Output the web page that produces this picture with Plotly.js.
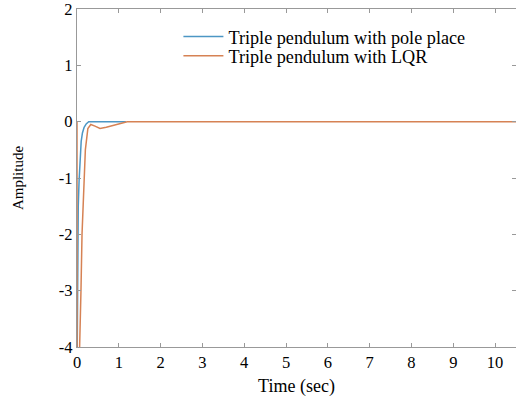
<!DOCTYPE html>
<html>
<head>
<meta charset="utf-8">
<script src="https://cdn.plot.ly/plotly-3.0.1.min.js"></script>
<style>html,body{margin:0;padding:0;background:#fff;overflow:hidden;}#chart{width:516px;height:400px;}</style>
</head>
<body>
<div id="chart"></div>
<script>
// Series: Triple pendulum with pole placement
const polePlaceTime = [0, 0.005, 0.01, 0.02, 0.03, 0.05, 0.07, 0.1, 0.13, 0.17, 0.22, 0.28, 0.4, 0.6, 0.8, 1.0, 1.17];
const polePlaceAmp  = [-4.6, -3.3, -2.4, -1.8, -1.5, -1.05, -0.65, -0.35, -0.2, -0.1, -0.04, 0, 0, 0, 0, 0, 0];
// Series: Triple pendulum with LQR
const lqrTime = [0, 0.002, 0.03, 0.07, 0.095, 0.12, 0.17, 0.2, 0.26, 0.33, 0.43, 0.55, 0.7, 0.85, 1.0, 1.2, 10.5];
const lqrAmp  = [0, -6, -5, -4, -3, -2, -1, -0.5, -0.12, -0.05, -0.08, -0.12, -0.1, -0.07, -0.04, 0, 0];
const seriesNames = ["Triple pendulum with pole place", "Triple pendulum with LQR"];
const xTicks = [0,1,2,3,4,5,6,7,8,9,10];
const yTicks = [-4,-3,-2,-1,0,1,2];

const fam = "Liberation Serif, Times New Roman, serif";
const tickFont = {family: fam, color: "#000", size: 16.5};
const legFont = {family: fam, color: "#000", size: 18.2};
const traces = [
  {x: polePlaceTime, y: polePlaceAmp, type: "scatter", mode: "lines", name: seriesNames[0],
   line: {color: "rgb(76,150,196)", width: 1.5}, legend: "legend"},
  {x: lqrTime, y: lqrAmp, type: "scatter", mode: "lines", name: seriesNames[1],
   line: {color: "rgb(214,130,84)", width: 1.5}, legend: "legend2"}
];
const axisCommon = {showgrid: false, zeroline: false, showline: true, linecolor: "#999", linewidth: 1.2,
  mirror: "ticks", ticks: "inside", ticklen: 4, tickcolor: "#999", tickfont: tickFont,
  ticklabeloverflow: "allow"};
const legCommon = {x: 0.231, xanchor: "left", yanchor: "top", bgcolor: "rgba(255,255,255,0)",
  font: legFont, itemwidth: 40};
const layout = {
  width: 516, height: 400,
  margin: {l: 77, r: 0, t: 9, b: 53},
  paper_bgcolor: "#fff", plot_bgcolor: "#fff",
  font: tickFont,
  showlegend: true,
  legend: Object.assign({}, legCommon, {y: 0.973}),
  legend2: Object.assign({}, legCommon, {y: 0.916}),
  xaxis: Object.assign({}, axisCommon, {range: [0, 10.5], tickvals: xTicks, ticktext: xTicks.map(String),
    title: {text: "Time (sec)", font: {family: fam, color: "#000", size: 18}, standoff: 8}}),
  yaxis: Object.assign({}, axisCommon, {range: [-4, 2], tickvals: yTicks, ticktext: yTicks.map(String),
    title: {text: "Amplitude", font: {family: fam, color: "#000", size: 15}, standoff: 31}})
};
Plotly.newPlot("chart", traces, layout, {displayModeBar: false, staticPlot: true});
</script>
</body>
</html>
